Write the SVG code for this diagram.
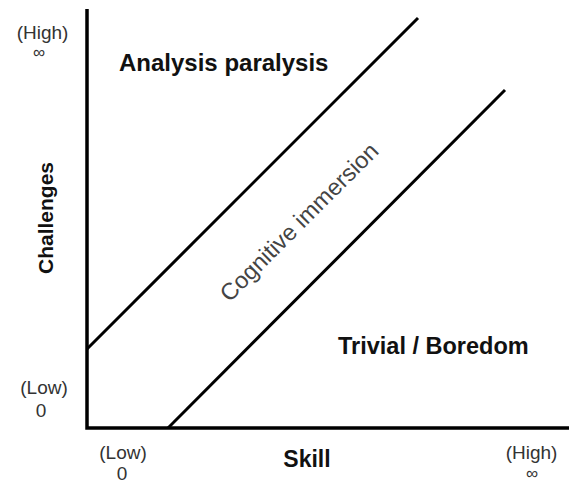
<svg xmlns="http://www.w3.org/2000/svg" width="569" height="484" viewBox="0 0 569 484">
  <style>
    .axis { stroke: #000; stroke-width: 3.5; fill: none; }
    .band { stroke: #000; stroke-width: 3; fill: none; stroke-linecap: butt; }
    .zone { font-family: "Liberation Sans", Arial, sans-serif; font-weight: bold; fill: #111; }
    .tick { font-family: "Liberation Sans", Arial, sans-serif; font-size: 19px; fill: #333; text-anchor: middle; }
    .inf { font-family: "Liberation Sans", Arial, sans-serif; font-size: 17px; fill: #333; text-anchor: middle; }
    .mid { font-family: "Liberation Sans", Arial, sans-serif; font-size: 23.5px; fill: #444; text-anchor: middle; }
  </style>
  <rect width="569" height="484" fill="#fff"/>

  <!-- axes -->
  <g id="axes">
    <polyline class="axis" points="87,9 87,428 569,428"/>
  </g>

  <!-- boundary lines between regions -->
  <g id="connectors">
    <line class="band" x1="87" y1="349" x2="418" y2="18"/>
    <line class="band" x1="168" y1="428" x2="505" y2="90"/>
  </g>

  <!-- region labels -->
  <g id="analysis-paralysis">
    <text class="zone" x="119" y="71" font-size="24">Analysis paralysis</text>
  </g>
  <g id="cognitive-immersion">
    <text class="mid" transform="translate(299,222) rotate(-45)" y="8">Cognitive immersion</text>
  </g>
  <g id="trivial-boredom">
    <text class="zone" x="338" y="354" font-size="23.5">Trivial / Boredom</text>
  </g>

  <!-- axis titles -->
  <g id="axis-skill">
    <text class="zone" x="307" y="467" font-size="23" text-anchor="middle">Skill</text>
  </g>
  <g id="axis-challenges">
    <text class="zone" transform="translate(53,218) rotate(-90)" font-size="21" text-anchor="middle">Challenges</text>
  </g>

  <!-- scale labels -->
  <g id="y-high">
    <text class="tick" x="42.5" y="39">(High)</text>
    <text class="inf" x="39" y="58">∞</text>
  </g>
  <g id="y-low">
    <text class="tick" x="44" y="394">(Low)</text>
    <text class="tick" x="41" y="417">0</text>
  </g>
  <g id="x-low">
    <text class="tick" x="123" y="459">(Low)</text>
    <text class="tick" x="122" y="480">0</text>
  </g>
  <g id="x-high">
    <text class="tick" x="531.5" y="459">(High)</text>
    <text class="inf" x="532" y="479">∞</text>
  </g>
</svg>
